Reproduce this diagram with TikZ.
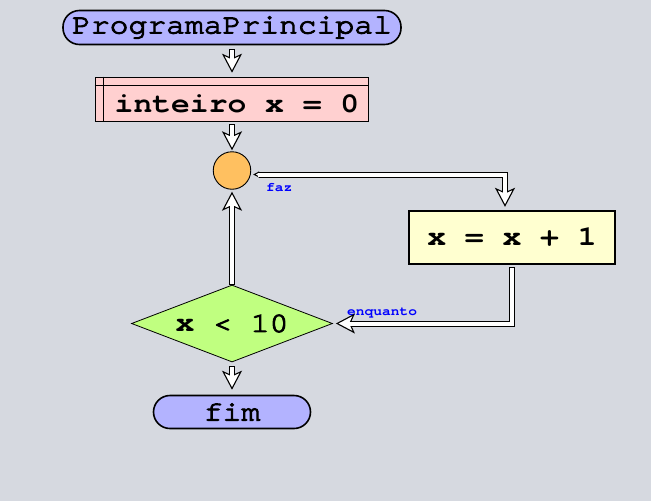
\documentclass[tikz,border=0pt]{standalone}
\usepackage{fontspec}
\usepackage{graphicx}
\usetikzlibrary{arrows.meta,shapes.geometric}
\newfontfamily\cur{TeX Gyre Cursor}[Ligatures=CommonOff]
\newfontfamily\curm{TeX Gyre Cursor}[FakeBold=3.5, Ligatures=CommonOff]
\definecolor{cBg}{RGB}{214,217,224}
\definecolor{cTerm}{RGB}{179,179,255}
\definecolor{cPink}{RGB}{255,208,208}
\definecolor{cYel}{RGB}{255,255,208}
\definecolor{cGreen}{RGB}{192,255,128}
\definecolor{cOrange}{RGB}{255,192,96}
\definecolor{cBlue}{RGB}{0,0,255}
\newcommand\widetxt[1]{\scalebox{1.12}[1]{#1}}
\newcommand\hollow[3]{%
  \draw[hout,shorten <=#1,shorten >=#2] #3;
  \draw[hin,shorten <=#1+1pt,shorten >=#2+13pt] #3;}
\tikzset{
  hhead/.tip={Stealth[length=19pt,width=20pt,inset=4.5pt,fill=white,line width=1.1pt]},
  htail/.tip={Triangle[length=6pt,width=6pt,fill=white,line width=1pt]},
  hout/.style={draw=black, line width=6pt, -hhead},
  hin/.style={draw=white, line width=4pt, -},
  term/.style={draw, line width=1.6pt, fill=cTerm, rounded corners=16.5pt,
    inner sep=0pt, font=\curm\fontsize{28}{30}\selectfont},
  bigbold/.style={inner sep=0pt, font=\cur\bfseries\fontsize{28}{30}\selectfont},
  lbl/.style={inner sep=0pt, text=cBlue, font=\cur\bfseries\fontsize{13}{14}\selectfont}
}
\begin{document}
\begin{tikzpicture}[x=1pt,y=-1pt]
\fill[cBg] (0,0) rectangle (651,501);
\useasboundingbox (0,0) rectangle (651,501);
% nodes
\node[term, minimum width=338pt, minimum height=34pt] (pp) at (232,27.5) {\widetxt{ProgramaPrincipal}};
\node[draw, line width=1.6pt, fill=cPink, minimum width=273pt, minimum height=44pt, inner sep=0pt] (init) at (232,99.5) {};
\draw[line width=1.4pt] ([yshift=-9pt]init.north west) -- ([yshift=-9pt]init.north east);
\draw[line width=1.4pt] ([xshift=9pt]init.north west) -- ([xshift=9pt]init.south west);
\node[bigbold] (initt) at (237,104) {\widetxt{inteiro x = 0}};
\node[circle, draw, line width=0.9pt, fill=cOrange, minimum size=37.5pt, inner sep=0pt] (circ) at (232,170.5) {};
\node[draw, line width=2.4pt, fill=cYel, minimum width=205.5pt, minimum height=53pt, inner sep=0pt,
  font=\cur\bfseries\fontsize{28}{30}\selectfont] (calc) at (512,237.5) {\widetxt{x = x + 1}};
\node[diamond, aspect=2.61, draw, line width=0.8pt, fill=cGreen, minimum width=201pt, minimum height=77pt, inner sep=0pt,
  font=\curm\fontsize{28}{30}\selectfont] (dia) at (232,323.5) {\widetxt{{\cur\bfseries x} < 10}};
\node[term, minimum width=157pt, minimum height=33pt] (fim) at (232,412) {\widetxt{fim}};
\node[lbl, anchor=base west] (faz) at (266,191) {\widetxt{faz}};
\node[lbl, anchor=base west] (enq) at (347,315) {\widetxt{enquanto}};
% connectors
\hollow{4pt}{4pt}{(pp.south) -- (init.north)}
\hollow{2pt}{1pt}{(init.south) -- (circ.north)}
\draw[hout, htail-hhead, shorten <=2pt, shorten >=3pt] ([yshift=-4pt]circ.east) -| ([xshift=-7pt]calc.north);
\draw[hin, shorten <=7pt, shorten >=16pt] ([yshift=-4pt]circ.east) -| ([xshift=-7pt]calc.north);
\hollow{2pt}{3pt}{(calc.south) |- (dia.east)}
\hollow{0pt}{2pt}{(dia.north) -- (circ.south)}
\hollow{4pt}{5pt}{(dia.south) -- (fim.north)}
\end{tikzpicture}
\end{document}
